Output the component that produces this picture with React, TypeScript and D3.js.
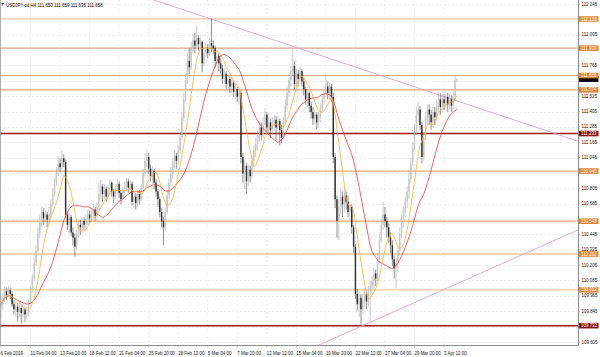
import React from 'react';
import * as d3 from 'd3';

// ---- Data (USDJPY-cd, H4) ----
const SYMBOL_TITLE = 'USDJPY-cd,H4  111.650 111.659 111.636 111.658';
const FIRST_OPEN = 109.88;
const CLOSES = [
  109.90, 109.95, 110.00, 109.97, 110.01, 109.98, 109.90, 109.86, 109.88, 109.84, 109.87, 109.83, 109.86, 109.82, 109.84, 109.92, 110.01,
  110.10, 110.22, 110.32, 110.45, 110.55, 110.62, 110.57, 110.60, 110.56, 110.60, 110.68, 110.76, 110.85, 110.93, 111.00, 110.97, 111.04, 111.01, 110.60,
  110.52, 110.58, 110.46, 110.42, 110.35, 110.45, 110.52, 110.50, 110.55, 110.52, 110.56, 110.60, 110.57, 110.61, 110.64, 110.59, 110.66, 110.76,
  110.82, 110.76, 110.80, 110.74, 110.79, 110.85, 110.78, 110.74, 110.80, 110.84, 110.77, 110.72, 110.78, 110.82, 110.86, 110.81, 110.84, 110.70, 110.74, 110.69, 110.76, 110.72, 110.80, 110.92, 111.02, 111.05, 110.96,
  110.90, 110.94, 110.85, 110.78, 110.72, 110.62, 110.55, 110.50, 110.62, 110.75, 110.85, 110.92, 111.00, 111.06, 111.02, 111.10, 111.20,
  111.35, 111.50, 111.65, 111.80, 111.75, 111.90, 111.96, 111.92, 111.98, 111.93, 111.95, 111.78, 111.86, 111.90, 111.86, 111.94, 111.92, 111.90, 111.80, 111.84, 111.78, 111.74, 111.66, 111.70, 111.62, 111.66, 111.60, 111.63, 111.56, 111.58, 111.52, 111.55, 111.05, 110.92, 110.98, 110.86, 110.95, 110.90,
  111.02, 111.10, 111.15, 111.22, 111.28, 111.22, 111.30, 111.38, 111.28, 111.32, 111.26, 111.30, 111.34, 111.28, 111.33, 111.26, 111.20, 111.32, 111.45, 111.55, 111.65, 111.72, 111.76, 111.62, 111.70, 111.66,
  111.72, 111.64, 111.58, 111.50, 111.55, 111.45, 111.40, 111.35, 111.38, 111.32, 111.36, 111.42, 111.50, 111.55, 111.60, 111.55, 111.60, 111.52, 111.05,
  110.72, 110.55, 110.66, 110.74, 110.68, 110.75, 110.70, 110.62, 110.66, 110.50, 110.35, 109.98, 109.90, 109.95, 109.86, 109.93, 109.98, 109.92, 110.00, 110.04, 110.08, 110.14, 110.10, 110.25, 110.40, 110.52, 110.60, 110.55, 110.50, 110.42, 110.36, 110.25, 110.18, 110.22, 110.32, 110.45, 110.55, 110.62, 110.70, 110.78,
  110.88, 111.00, 111.12, 111.25, 111.38, 111.42, 111.30, 111.05, 111.20, 111.35, 111.42, 111.38, 111.32, 111.40, 111.36, 111.46, 111.50, 111.44, 111.50, 111.47, 111.52, 111.46, 111.50, 111.45, 111.52, 111.65, 111.658,
];
const HIGHS = [
  109.96, 109.99, 110.04, 110.03, 110.04, 110.03, 110.00, 109.93, 109.92, 109.91, 109.92, 109.90, 109.91, 109.88, 109.88, 109.94, 110.04,
  110.13, 110.26, 110.36, 110.50, 110.60, 110.66, 110.65, 110.64, 110.62, 110.66, 110.72, 110.80, 110.89, 110.97, 111.05, 111.04, 111.10, 111.07, 111.03,
  110.63, 110.62, 110.60, 110.50, 110.45, 110.48, 110.56, 110.56, 110.58, 110.58, 110.60, 110.64, 110.63, 110.65, 110.68, 110.66, 110.70, 110.85,
  110.87, 110.84, 110.84, 110.82, 110.83, 110.88, 110.86, 110.80, 110.84, 110.88, 110.86, 110.79, 110.81, 110.86, 110.89, 110.88, 110.87, 110.86, 110.78, 110.77, 110.79, 110.79, 110.84, 110.96, 111.08, 111.10, 111.08,
  110.99, 110.98, 110.96, 110.88, 110.80, 110.74, 110.65, 110.58, 110.65, 110.79, 110.88, 110.97, 111.04, 111.10, 111.08, 111.14, 111.25,
  111.40, 111.55, 111.70, 111.86, 111.90, 111.95, 112.01, 112.02, 112.07, 112.00, 111.99, 111.96, 111.90, 111.94, 111.93, 111.98, 112.13, 111.96, 111.92, 111.88, 111.86, 111.82, 111.77, 111.74, 111.72, 111.70, 111.68, 111.67, 111.65, 111.62, 111.60, 111.58, 111.57, 111.08, 111.03, 111.00, 110.99, 110.98,
  111.06, 111.14, 111.20, 111.26, 111.33, 111.32, 111.36, 111.43, 111.40, 111.36, 111.35, 111.36, 111.38, 111.37, 111.37, 111.35, 111.30, 111.36, 111.50, 111.60, 111.70, 111.76, 111.91, 111.80, 111.74, 111.73,
  111.76, 111.74, 111.67, 111.60, 111.58, 111.56, 111.48, 111.44, 111.42, 111.40, 111.40, 111.46, 111.54, 111.60, 111.69, 111.64, 111.63, 111.62, 111.55,
  111.08, 110.75, 110.72, 110.80, 110.78, 110.80, 110.78, 110.75, 110.70, 110.68, 110.52, 110.37, 110.02, 110.00, 109.98, 109.98, 110.03, 110.00, 110.04, 110.08, 110.12, 110.18, 110.17, 110.30, 110.45, 110.57, 110.70, 110.66, 110.58, 110.53, 110.46, 110.40, 110.28, 110.26, 110.36, 110.50, 110.60, 110.66, 110.74, 110.82,
  110.95, 111.04, 111.16, 111.30, 111.44, 111.48, 111.45, 111.32, 111.25, 111.40, 111.46, 111.46, 111.42, 111.44, 111.44, 111.50, 111.55, 111.55, 111.54, 111.54, 111.56, 111.55, 111.54, 111.53, 111.56, 111.69, 111.659,
];
const LOWS = [
  109.78, 109.86, 109.92, 109.93, 109.95, 109.94, 109.88, 109.82, 109.80, 109.77, 109.80, 109.75, 109.80, 109.76, 109.78, 109.80, 109.90,
  109.99, 110.08, 110.20, 110.30, 110.42, 110.50, 110.52, 110.54, 110.50, 110.53, 110.57, 110.66, 110.74, 110.82, 110.90, 110.93, 110.95, 110.97, 110.57,
  110.48, 110.45, 110.43, 110.36, 110.27, 110.33, 110.42, 110.44, 110.46, 110.48, 110.49, 110.52, 110.53, 110.54, 110.57, 110.55, 110.56, 110.63,
  110.72, 110.70, 110.72, 110.70, 110.71, 110.75, 110.74, 110.69, 110.72, 110.76, 110.73, 110.68, 110.70, 110.75, 110.78, 110.77, 110.77, 110.67, 110.66, 110.64, 110.66, 110.68, 110.70, 110.78, 110.90, 110.97, 110.92,
  110.86, 110.84, 110.80, 110.74, 110.66, 110.58, 110.50, 110.36, 110.47, 110.60, 110.72, 110.82, 110.88, 110.96, 110.96, 110.99, 111.08,
  111.18, 111.33, 111.48, 111.62, 111.70, 111.73, 111.86, 111.86, 111.90, 111.88, 111.89, 111.71, 111.76, 111.83, 111.82, 111.84, 111.87, 111.85, 111.75, 111.76, 111.72, 111.70, 111.62, 111.62, 111.58, 111.57, 111.55, 111.55, 111.52, 111.50, 111.48, 111.46, 111.00, 110.85, 110.80, 110.76, 110.82, 110.85,
  110.88, 110.98, 111.05, 111.10, 111.17, 111.18, 111.20, 111.26, 111.24, 111.22, 111.20, 111.22, 111.25, 111.18, 111.22, 111.14, 111.16, 111.18, 111.30, 111.42, 111.52, 111.60, 111.68, 111.58, 111.56, 111.60,
  111.62, 111.60, 111.53, 111.46, 111.44, 111.40, 111.35, 111.30, 111.30, 111.27, 111.28, 111.32, 111.40, 111.46, 111.52, 111.50, 111.50, 111.48, 111.00,
  110.65, 110.42, 110.40, 110.60, 110.58, 110.62, 110.64, 110.58, 110.56, 110.45, 110.30, 109.94, 109.85, 109.80, 109.74, 109.82, 109.88, 109.86, 109.88, 109.77, 109.98, 110.02, 110.04, 110.08, 110.22, 110.38, 110.48, 110.50, 110.42, 110.38, 110.30, 110.20, 110.10, 110.02, 110.15, 110.28, 110.42, 110.50, 110.58, 110.65,
  110.72, 110.85, 110.98, 111.10, 111.22, 111.32, 111.26, 111.00, 111.02, 111.18, 111.30, 111.30, 111.26, 111.28, 111.30, 111.33, 111.40, 111.38, 111.40, 111.42, 111.43, 111.40, 111.42, 111.40, 111.42, 111.50, 111.636,
];

const DATE_LABELS = [
  '6 Feb 2019', '11 Feb 04:00', '13 Feb 20:00', '18 Feb 12:00', '21 Feb 04:00', '25 Feb 20:00',
  '28 Feb 12:00', '5 Mar 04:00', '7 Mar 20:00', '12 Mar 12:00', '15 Mar 04:00', '19 Mar 20:00',
  '22 Mar 12:00', '27 Mar 04:00', '29 Mar 20:00', '3 Apr 12:00',
];
const BARS_PER_LABEL = 16;
const PRICE_TICKS = [
  112.245, 112.125, 112.005, 111.885, 111.765, 111.645, 111.525, 111.405, 111.285, 111.165, 111.045, 110.925,
  110.805, 110.685, 110.565, 110.445, 110.325, 110.205, 110.085, 109.965, 109.845, 109.725, 109.605,
];
const LEVEL_PRICES = [112.128, 111.900, 111.686, 111.574, 111.233, 110.940, 110.548, 110.292, 110.012, 109.732];
const LEVEL_KINDS = ['light', 'brown', 'brown', 'brown', 'red', 'orange', 'orange', 'orange', 'light', 'red'];
const CURRENT_PRICE = 111.658;
// trend lines: [bar index, price]
const TREND_DOWN = [[82.9, 112.276], [313, 111.171]];
const TREND_UP = [[196.6, 109.737], [313, 110.483]];
const FAST_MA = 8;
const SLOW_MA = 21;

// ---- layout ----
const W = 600, H = 357;
const PR = 578, PB = 345;
const FONT = "'Liberation Sans', Arial, sans-serif";
const FS = 4.45;

const LEVEL_STYLE: Record<string, { line: string; box: string; w: number }> = {
  light: { line: '#F7C9A8', box: '#EA8A3C', w: 1.2 },
  brown: { line: '#D9A58C', box: '#E7812F', w: 1.1 },
  orange: { line: '#F2A772', box: '#E7812F', w: 1.2 },
  red: { line: '#A31818', box: '#8E1111', w: 1.5 },
};

function sma(vals: number[], n: number) {
  return vals.map((_, i) => {
    const s = Math.max(0, i - n + 1);
    return d3.mean(vals.slice(s, i + 1)) as number;
  });
}

export default function App() {
  const x = d3.scaleLinear().domain([0, 313]).range([1, 578.8]);
  const y = d3.scaleLinear().domain([109.581, 112.276]).range([PB, 0]);

  const bars = CLOSES.map((c, i) => ({
    i,
    o: i === 0 ? FIRST_OPEN : CLOSES[i - 1],
    c,
    h: HIGHS[i],
    l: LOWS[i],
  }));

  const line = d3.line<number>().x((_, i) => x(i)).y((d) => y(d));
  const fast = line(sma(CLOSES, FAST_MA)) || '';
  const slow = line(sma(CLOSES, SLOW_MA)) || '';

  const trend = (pts: number[][]) => {
    const [[b0, p0], [b1, p1]] = pts;
    const slope = (p1 - p0) / (b1 - b0);
    const bs = 60, be = 313;
    return { x1: x(bs), y1: y(p0 + (bs - b0) * slope), x2: x(be), y2: y(p0 + (be - b0) * slope) };
  };
  const td = trend(TREND_DOWN);
  const tu = trend(TREND_UP);

  // price-axis labels that are covered by a level box are not shown (as in the terminal)
  const boxYs = [...LEVEL_PRICES, CURRENT_PRICE].map((p) => y(p));
  const visibleTicks = PRICE_TICKS.filter((t) => boxYs.every((by) => Math.abs(by - y(t)) > 3.5));

  return (
    <svg width={W} height={H} style={{ position: 'absolute', left: 0, top: 0, background: '#fff' }}
      fontFamily={FONT}>
      <defs>
        <clipPath id="plot"><rect x={0} y={0} width={PR} height={PB} /></clipPath>
      </defs>
      <rect x={0} y={0} width={W} height={H} fill="#fff" />
      {/* grid */}
      <g stroke="#e2e2e2" strokeWidth={0.6} strokeDasharray="2,2">
        {PRICE_TICKS.map((t) => (
          <line key={'h' + t} x1={0} x2={PR} y1={Math.round(y(t)) + 0.5} y2={Math.round(y(t)) + 0.5} />
        ))}
        {DATE_LABELS.map((_, k) => k > 0 && (
          <line key={'v' + k} x1={x(k * BARS_PER_LABEL)} x2={x(k * BARS_PER_LABEL)} y1={0} y2={PB} />
        ))}
      </g>
      <g clipPath="url(#plot)">
        {/* level lines */}
        {LEVEL_PRICES.map((p, k) => {
          const st = LEVEL_STYLE[LEVEL_KINDS[k]];
          return <line key={'lv' + k} x1={0} x2={PR} y1={y(p)} y2={y(p)} stroke={st.line} strokeWidth={st.w} />;
        })}
        {/* trend lines */}
        <line {...td} stroke="#DE9EE0" strokeWidth={0.9} />
        <line {...tu} stroke="#DE9EE0" strokeWidth={0.9} />
        {/* candles */}
        {bars.map((b) => {
          const up = b.c >= b.o;
          const top = y(Math.max(b.o, b.c));
          const bot = y(Math.min(b.o, b.c));
          const cx = x(b.i);
          return (
            <g key={b.i}>
              <line x1={cx} x2={cx} y1={y(Math.max(b.h, b.o, b.c))} y2={y(Math.min(b.l, b.o, b.c))}
                stroke={up ? '#a8a8a8' : '#444'} strokeWidth={0.6} />
              <rect x={cx - 0.7} y={top} width={1.4} height={Math.max(0.6, bot - top)}
                fill={up ? '#c6c6c6' : '#2e2e2e'} />
            </g>
          );
        })}
        {/* moving averages */}
        <path d={slow} fill="none" stroke="#F23B3B" strokeWidth={0.8} />
        <path d={fast} fill="none" stroke="#FDB135" strokeWidth={0.8} />
      </g>
      {/* frame */}
      <line x1={0.5} x2={0.5} y1={0} y2={PB} stroke="#9a9a9a" strokeWidth={0.8} />
      <line x1={PR + 0.5} x2={PR + 0.5} y1={0} y2={PB + 0.5} stroke="#8c8c8c" strokeWidth={1} />
      <line x1={0} x2={PR + 0.5} y1={PB + 0.5} y2={PB + 0.5} stroke="#8c8c8c" strokeWidth={1} />
      {/* title */}
      <path d="M1.2,3 L4.2,3 L2.7,5.6 Z" fill="#555" />
      <text x={6} y={7} fontSize={FS} fill="#000">{SYMBOL_TITLE}</text>
      {/* y tick labels */}
      {visibleTicks.map((t) => (
        <g key={'yt' + t}>
          <line x1={PR} x2={PR + 2} y1={y(t)} y2={y(t)} stroke="#8c8c8c" strokeWidth={0.5} />
          <text x={581.5} y={y(t) + 1.6} fontSize={FS} fill="#111">{t.toFixed(3)}</text>
        </g>
      ))}
      {/* current price marker (mostly hidden behind the level boxes) */}
      <rect x={579} y={y(CURRENT_PRICE) - 2.8} width={19.5} height={5.6} fill="#000" />
      {/* level boxes */}
      {LEVEL_PRICES.map((p, k) => {
        const st = LEVEL_STYLE[LEVEL_KINDS[k]];
        return (
          <g key={'lb' + k}>
            <rect x={579} y={y(p) - 2.8} width={19.5} height={5.6} fill={st.box} />
            <text x={581} y={y(p) + 1.6} fontSize={FS} fill="#fff">{p.toFixed(3)}</text>
          </g>
        );
      })}
      {/* x labels */}
      {DATE_LABELS.map((d, k) => (
        <g key={'xl' + k}>
          <line x1={x(k * BARS_PER_LABEL)} x2={x(k * BARS_PER_LABEL)} y1={PB} y2={PB + 2.5} stroke="#8c8c8c" strokeWidth={0.5} />
          <text x={k === 0 ? 0.5 : x(k * BARS_PER_LABEL)} y={354.5} fontSize={FS} fill="#111">{d}</text>
        </g>
      ))}
    </svg>
  );
}
